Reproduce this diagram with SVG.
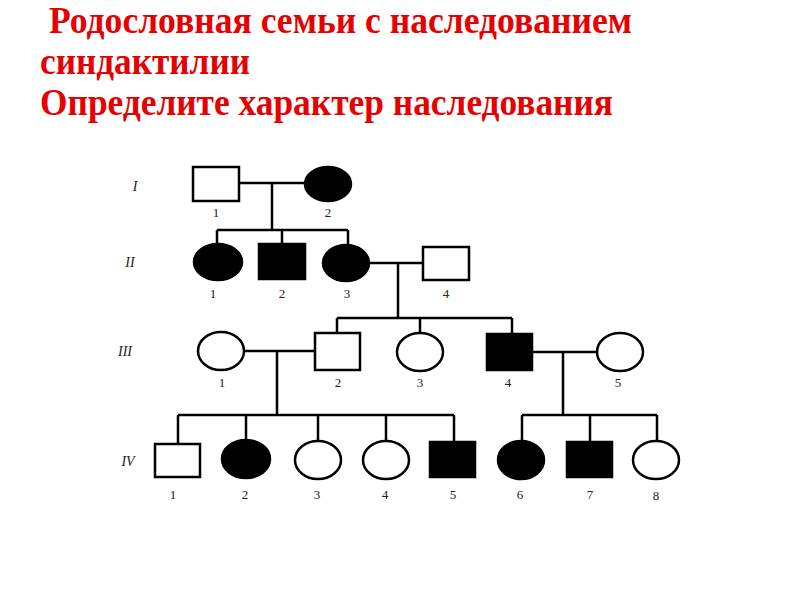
<svg xmlns="http://www.w3.org/2000/svg" width="800" height="600" viewBox="0 0 800 600">
<style>
.t{font-family:"Liberation Serif",serif;font-weight:bold;fill:#e60000;font-size:38px}
.o{fill:#fff;stroke:#000;stroke-width:2.5}
.f{fill:#000;stroke:#000;stroke-width:2.5}
.c line{stroke:#000;stroke-width:2.5}
.n{font-family:"Liberation Serif",serif;font-size:13px;fill:#222;text-anchor:middle}
.g{font-family:"Liberation Serif",serif;font-size:14px;font-style:italic;fill:#222;text-anchor:middle}
</style>
<rect width="800" height="600" fill="#fff"/>
<text class="t" x="49" y="33" textLength="583" lengthAdjust="spacingAndGlyphs">Родословная семьи с наследованием</text>
<text class="t" x="40" y="74" textLength="210" lengthAdjust="spacingAndGlyphs">синдактилии</text>
<text class="t" x="40" y="115" textLength="573" lengthAdjust="spacingAndGlyphs">Определите характер наследования</text>
<g class="c" id="connectors">
<line x1="239" y1="183" x2="305" y2="183"/>
<line x1="272" y1="183" x2="272" y2="230"/>
<line x1="217" y1="230" x2="348" y2="230"/>
<line x1="217" y1="230" x2="217" y2="244"/>
<line x1="282" y1="230" x2="282" y2="244"/>
<line x1="348" y1="230" x2="348" y2="245"/>
<line x1="369" y1="263" x2="423" y2="263"/>
<line x1="398" y1="263" x2="398" y2="318"/>
<line x1="337" y1="318" x2="512" y2="318"/>
<line x1="337" y1="318" x2="337" y2="333"/>
<line x1="420" y1="318" x2="420" y2="333"/>
<line x1="512" y1="318" x2="512" y2="334"/>
<line x1="245" y1="351" x2="315" y2="351"/>
<line x1="277" y1="351" x2="277" y2="415"/>
<line x1="532" y1="352" x2="597" y2="352"/>
<line x1="563" y1="352" x2="563" y2="415"/>
<line x1="178" y1="415" x2="454" y2="415"/>
<line x1="178" y1="415" x2="178" y2="444"/>
<line x1="246" y1="415" x2="246" y2="440"/>
<line x1="318" y1="415" x2="318" y2="441"/>
<line x1="386" y1="415" x2="386" y2="441"/>
<line x1="454" y1="415" x2="454" y2="442"/>
<line x1="522" y1="415" x2="657" y2="415"/>
<line x1="522" y1="415" x2="522" y2="441"/>
<line x1="590" y1="415" x2="590" y2="442"/>
<line x1="657" y1="415" x2="657" y2="441"/>
</g>
<text class="g" x="135" y="191">I</text>
<text class="g" x="130" y="267">II</text>
<text class="g" x="125" y="356">III</text>
<text class="g" x="128" y="466">IV</text>
<g id="I-1"><rect class="o" x="193" y="167" width="46" height="34"/><text class="n" x="216" y="217">1</text></g>
<g id="I-2"><ellipse class="f" cx="328" cy="184" rx="23" ry="17"/><text class="n" x="328" y="217">2</text></g>
<g id="II-1"><ellipse class="f" cx="218" cy="262" rx="24" ry="18"/><text class="n" x="213" y="298">1</text></g>
<g id="II-2"><rect class="f" x="259" y="244" width="46" height="35"/><text class="n" x="282" y="298">2</text></g>
<g id="II-3"><ellipse class="f" cx="346" cy="263" rx="23" ry="18"/><text class="n" x="347" y="298">3</text></g>
<g id="II-4"><rect class="o" x="423" y="247" width="46" height="33"/><text class="n" x="446" y="298">4</text></g>
<g id="III-1"><ellipse class="o" cx="221" cy="351" rx="23" ry="19"/><text class="n" x="222" y="387">1</text></g>
<g id="III-2"><rect class="o" x="315" y="333" width="45" height="37"/><text class="n" x="338" y="387">2</text></g>
<g id="III-3"><ellipse class="o" cx="420" cy="352" rx="23" ry="19"/><text class="n" x="420" y="387">3</text></g>
<g id="III-4"><rect class="f" x="487" y="334" width="45" height="36"/><text class="n" x="508" y="387">4</text></g>
<g id="III-5"><ellipse class="o" cx="620" cy="352" rx="23" ry="19"/><text class="n" x="618" y="387">5</text></g>
<g id="IV-1"><rect class="o" x="155" y="444" width="45" height="33"/><text class="n" x="173" y="499">1</text></g>
<g id="IV-2"><ellipse class="f" cx="246" cy="459" rx="24" ry="19"/><text class="n" x="245" y="499">2</text></g>
<g id="IV-3"><ellipse class="o" cx="318" cy="460" rx="23" ry="19"/><text class="n" x="317" y="499">3</text></g>
<g id="IV-4"><ellipse class="o" cx="386" cy="460" rx="23" ry="19"/><text class="n" x="385" y="499">4</text></g>
<g id="IV-5"><rect class="f" x="430" y="442" width="45" height="35"/><text class="n" x="453" y="499">5</text></g>
<g id="IV-6"><ellipse class="f" cx="521" cy="460" rx="23" ry="19"/><text class="n" x="520" y="499">6</text></g>
<g id="IV-7"><rect class="f" x="567" y="442" width="45" height="35"/><text class="n" x="590" y="499">7</text></g>
<g id="IV-8"><ellipse class="o" cx="656" cy="460" rx="23" ry="19"/><text class="n" x="656" y="500">8</text></g>
</svg>
